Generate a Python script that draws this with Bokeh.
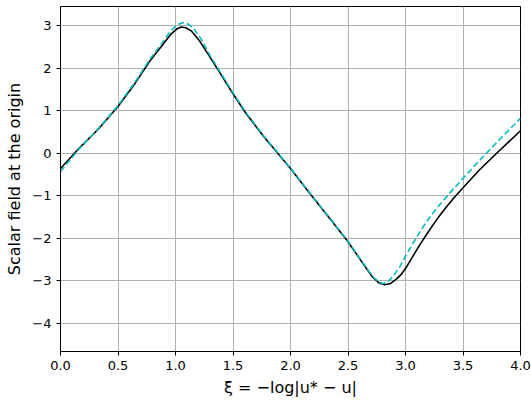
from bokeh.plotting import figure
from bokeh.models import Range1d, FixedTicker
from bokeh.embed import file_html
from bokeh.resources import INLINE

# Black solid curve
xi_black = [0.0, 0.155, 0.33, 0.5, 0.645, 0.78, 0.88, 0.96, 1.01, 1.05, 1.09, 1.14, 1.21, 1.30,
            1.40, 1.5, 1.615, 1.76, 1.88, 2.0, 2.17, 2.34, 2.5, 2.63, 2.71, 2.77, 2.82, 2.87,
            2.92, 2.965, 3.0, 3.06, 3.12, 3.18, 3.235, 3.29, 3.35, 3.42, 3.5, 3.64, 3.82, 4.0]
phi_black = [-0.36, 0.10, 0.57, 1.10, 1.63, 2.18, 2.52, 2.80, 2.92, 2.97, 2.95, 2.87, 2.64, 2.26,
             1.83, 1.40, 0.93, 0.42, 0.03, -0.36, -0.95, -1.53, -2.08, -2.59, -2.90, -3.05, -3.09,
             -3.06, -2.96, -2.84, -2.71, -2.44, -2.17, -1.92, -1.70, -1.49, -1.28, -1.05, -0.81,
             -0.40, 0.07, 0.53]

# Cyan dashed curve
xi_cyan = [0.0, 0.155, 0.33, 0.5, 0.645, 0.78, 0.88, 0.96, 1.01, 1.06, 1.10, 1.15, 1.22, 1.30,
           1.40, 1.5, 1.615, 1.76, 1.88, 2.0, 2.17, 2.34, 2.5, 2.63, 2.71, 2.76, 2.80, 2.84,
           2.89, 2.95, 3.0, 3.06, 3.12, 3.18, 3.24, 3.30, 3.40, 3.5, 3.64, 3.82, 4.0]
phi_cyan = [-0.43, 0.08, 0.58, 1.12, 1.66, 2.22, 2.58, 2.88, 3.01, 3.07, 3.05, 2.96, 2.70, 2.30,
            1.86, 1.42, 0.95, 0.43, 0.04, -0.35, -0.94, -1.52, -2.07, -2.58, -2.88, -3.01, -3.06,
            -3.04, -2.90, -2.67, -2.42, -2.14, -1.87, -1.62, -1.40, -1.20, -0.89, -0.59, -0.18,
            0.33, 0.82]

x_ticks = [0.0, 0.5, 1.0, 1.5, 2.0, 2.5, 3.0, 3.5, 4.0]
y_ticks = [-4, -3, -2, -1, 0, 1, 2, 3]

p = figure(width=531, height=401, output_backend="svg", toolbar_location=None,
           x_range=Range1d(0, 4), y_range=Range1d(-4.66, 3.45),
           min_border_left=60, min_border_right=11, min_border_top=6, min_border_bottom=50)

p.background_fill_color = "white"
p.border_fill_color = "white"
p.outline_line_color = "black"
p.outline_line_width = 1

for ax in (p.xaxis[0], p.yaxis[0]):
    ax.axis_line_color = "black"
    ax.axis_line_width = 1
    ax.major_tick_line_color = "black"
    ax.major_tick_out = 4
    ax.major_tick_in = 0
    ax.minor_tick_line_color = None
    ax.major_label_text_font = "DejaVu Sans"
    ax.major_label_text_font_size = "13px"
    ax.major_label_text_color = "black"
    ax.axis_label_text_font = "DejaVu Sans"
    ax.axis_label_text_font_size = "16px"
    ax.axis_label_text_font_style = "normal"
    ax.axis_label_text_color = "black"

p.xaxis.ticker = FixedTicker(ticks=x_ticks)
p.yaxis.ticker = FixedTicker(ticks=y_ticks)
p.xaxis.major_label_overrides = {t: f"{t:.1f}" for t in x_ticks}
p.yaxis.major_label_overrides = {t: (f"\u2212{abs(t)}" if t < 0 else f"{t}") for t in y_ticks}

p.xaxis.axis_label = "\u03be = \u2212log|u* \u2212 u|"
p.yaxis.axis_label = "Scalar field at the origin"

p.grid.grid_line_color = "#b0b0b0"
p.grid.grid_line_width = 1

p.line(xi_black, phi_black, line_color="black", line_width=1.6, line_join="round")
p.line(xi_cyan, phi_cyan, line_color="#00bfbf", line_width=1.6, line_dash="6 3", line_join="round")

open("out.html", "w").write(file_html(p, INLINE))
